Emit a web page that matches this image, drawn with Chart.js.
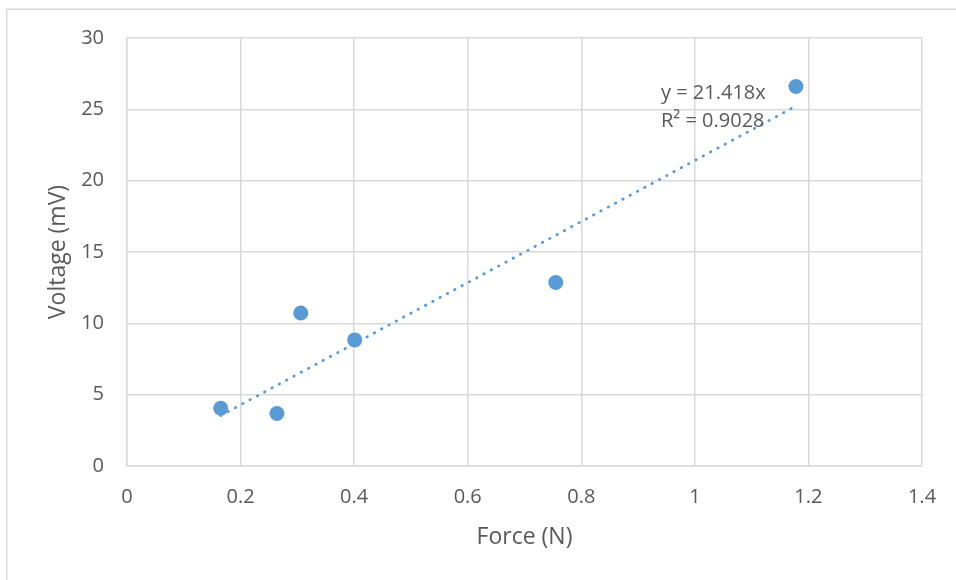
<!DOCTYPE html>
<html>
<head>
<meta charset="utf-8">
<title>Voltage vs Force</title>
<script src="https://cdn.jsdelivr.net/npm/chart.js@4/dist/chart.umd.min.js"></script>
<style>
  html, body { margin: 0; padding: 0; background: #ffffff; }
  #wrap { width: 956px; height: 580px; position: relative; }
</style>
</head>
<body>
<div id="wrap"><canvas id="chart"></canvas></div>
<script>
// Measured force (N) and sensor voltage (mV)
const forceN = [0.165, 0.264, 0.306, 0.401, 0.755, 1.178];
const voltageMV = [4.05, 3.68, 10.72, 8.84, 12.86, 26.6];

// Linear fit through the origin
const fitSlope = 21.418;
const fitR2 = 0.9028;

// Axis tick labels
const xTickLabels = ['0', '0.2', '0.4', '0.6', '0.8', '1', '1.2', '1.4'];
const yTickLabels = ['0', '5', '10', '15', '20', '25', '30'];

const TEXT = '#595959';
const GRID = '#D9D9D9';
const BLUE = '#5B9BD5';

const points = forceN.map((x, i) => ({ x: x, y: voltageMV[i] }));
const xMin = Math.min(...forceN);
const xMax = Math.max(...forceN);
const fitLine = [xMin, xMax].map(x => ({ x: x, y: fitSlope * x }));

Chart.defaults.font.family = "'Open Sans', 'Noto Sans', sans-serif";
Chart.defaults.color = TEXT;

// Light frame around the whole chart
const framePlugin = {
  id: 'frame',
  beforeDraw(chart) {
    const ctx = chart.ctx;
    ctx.save();
    ctx.strokeStyle = GRID;
    ctx.lineWidth = 1.5;
    ctx.strokeRect(6.75, 9.25, chart.width + 10, chart.height + 10);
    ctx.restore();
  }
};

// Trendline equation and R² label
const fitLabelPlugin = {
  id: 'fitLabel',
  afterDatasetsDraw(chart) {
    const ctx = chart.ctx;
    ctx.save();
    ctx.fillStyle = TEXT;
    ctx.font = "20px 'Open Sans', 'Noto Sans', sans-serif";
    ctx.textAlign = 'left';
    ctx.textBaseline = 'middle';
    ctx.fillText('y = ' + fitSlope.toFixed(3) + 'x', 661, 93);
    ctx.fillText('R\u00B2 = ' + fitR2.toFixed(4), 661, 121);
    ctx.restore();
  }
};

new Chart(document.getElementById('chart'), {
  type: 'scatter',
  data: {
    datasets: [
      {
        label: 'Voltage',
        data: points,
        backgroundColor: BLUE,
        borderWidth: 0,
        pointRadius: 7.5,
        pointHoverRadius: 7.5,
        order: 2
      },
      {
        label: 'Linear fit',
        type: 'line',
        data: fitLine,
        showLine: true,
        borderColor: BLUE,
        borderWidth: 2.8,
        borderDash: [0.5, 7.8],
        borderCapStyle: 'round',
        pointRadius: 0,
        fill: false,
        order: 1
      }
    ]
  },
  options: {
    responsive: true,
    maintainAspectRatio: false,
    animation: false,
    events: [],
    layout: { padding: { left: 0, top: 38, right: 34, bottom: 0 } },
    plugins: {
      legend: { display: false },
      tooltip: { enabled: false }
    },
    scales: {
      x: {
        type: 'linear',
        min: 0,
        max: 1.4,
        afterFit(scale) { scale.height = 114; },
        ticks: {
          stepSize: 0.2,
          padding: 19,
          font: { size: 20 },
          color: TEXT,
          callback: (v, i) => xTickLabels[i]
        },
        grid: { color: GRID, lineWidth: 1.5, drawTicks: false },
        border: { color: GRID, width: 1.5 },
        title: {
          display: true,
          text: 'Force (N)',
          color: TEXT,
          font: { size: 23 },
          padding: { top: 0, bottom: 29 }
        }
      },
      y: {
        type: 'linear',
        min: 0,
        max: 30,
        afterFit(scale) { scale.width = 127; },
        ticks: {
          stepSize: 5,
          padding: 23,
          font: { size: 20 },
          color: TEXT,
          callback: (v, i) => yTickLabels[i]
        },
        grid: { color: GRID, lineWidth: 1.5, drawTicks: false },
        border: { color: GRID, width: 1.5 },
        title: {
          display: true,
          text: 'Voltage (mV)',
          color: TEXT,
          font: { size: 23 },
          padding: { top: 45, bottom: 0 }
        }
      }
    }
  },
  plugins: [framePlugin, fitLabelPlugin]
});
</script>
</body>
</html>
